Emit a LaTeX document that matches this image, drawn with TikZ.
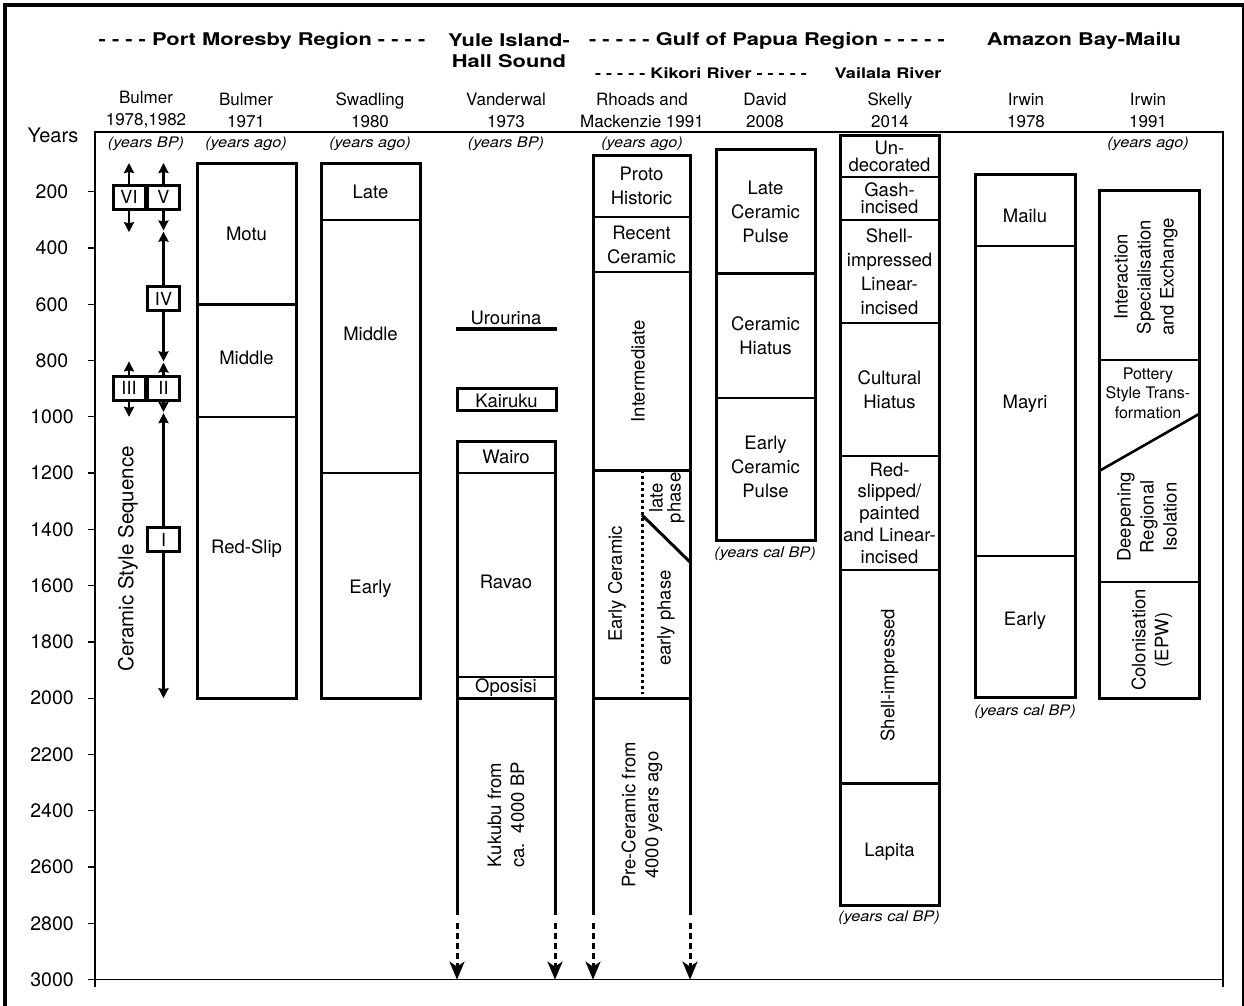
\documentclass[tikz,border=0pt]{standalone}
\usepackage{fontspec}
\setmainfont{TeX Gyre Heros}
\newfontfamily\widefont{TeX Gyre Heros}[FakeStretch=1.25]
\newfontfamily\unitfont{TeX Gyre Heros}[FakeStretch=1.12]
\usetikzlibrary{arrows.meta}
\begin{document}
\begin{tikzpicture}[x=1pt,y=-1pt,
  frame/.style={line width=1.3pt},
  colbox/.style={line width=3pt},
  sep/.style={line width=2.6pt},
  lbl/.style={font=\fontsize{18.5}{24}\selectfont, align=center, inner sep=0pt},
  rlbl/.style={font=\fontsize{18.5}{23}\selectfont, align=center, inner sep=0pt, rotate=90},
  tight/.style={font=\fontsize{18.5}{16.7}\selectfont, align=center, inner sep=0pt},
  midsp/.style={font=\fontsize{18.5}{21.7}\selectfont, align=center, inner sep=0pt},
  pottery/.style={font=\fontsize{16}{19.5}\selectfont, align=center, inner sep=0pt},
  ticklbl/.style={font=\fontsize{19.5}{20}\selectfont, inner sep=0pt},
  hdr/.style={font=\widefont\bfseries\fontsize{17.5}{21}\selectfont, align=center, inner sep=0pt},
  subhdr/.style={font=\widefont\bfseries\fontsize{14.5}{17}\selectfont, inner sep=0pt},
  auth/.style={font=\fontsize{17}{22}\selectfont, align=center, inner sep=0pt},
  unit/.style={font=\unitfont\itshape\fontsize{14.5}{15}\selectfont, inner sep=0pt},
  roman/.style={draw, line width=3pt, minimum width=32pt, minimum height=24pt, inner sep=0pt, font=\fontsize{18}{18}\selectfont},
  arr/.style={line width=2.6pt, -{Stealth[length=10pt,width=10pt,inset=1pt]}},
  darr/.style={line width=3pt, dash pattern=on 6pt off 4pt, -{Stealth[length=18pt,width=15pt,inset=5pt]}},
]
\useasboundingbox (0,0) rectangle (1244,1005);
\draw[line width=3.5pt] (5,5) rectangle (1243.5,1008);

% ---------- headers ----------
\node[hdr] (pm) at (262,41) {- - - - Port Moresby Region - - - -};
\node[hdr] (yule) at (509,51) {Yule Island-\\Hall Sound};
\node[hdr] (gulf) at (767,41) {- - - - - Gulf of Papua Region - - - - -};
\node[hdr] (amazon) at (1084,41) {Amazon Bay-Mailu};
\node[subhdr] (kikori) at (701,73) {- - - - - Kikori River - - - - -};
\node[subhdr] (vailala) at (888,73) {Vailala River};

\node[auth] (a1) at (146,110) {Bulmer\\1978,1982};
\node[auth] (a2) at (246,110) {Bulmer\\1971};
\node[auth] (a3) at (370,110) {Swadling\\1980};
\node[auth] (a4) at (506,110) {Vanderwal\\1973};
\node[auth] (a5) at (642,110) {Rhoads and\\Mackenzie 1991};
\node[auth] (a6) at (765,110) {David\\2008};
\node[auth] (a7) at (890,110) {Skelly\\2014};
\node[auth] (a8) at (1026,110) {Irwin\\1978};
\node[auth] (a9) at (1148,110) {Irwin\\1991};

\node[unit] (u1) at (146,144) {(years BP)};
\node[unit] (u2) at (246,144) {(years ago)};
\node[unit] (u3) at (370,144) {(years ago)};
\node[unit] (u4) at (506,144) {(years BP)};
\node[unit] (u5) at (642,144) {(years ago)};
\node[unit] (u9) at (1148,144) {(years ago)};

\node[font=\fontsize{20}{20}\selectfont, inner sep=0pt] (years) at (53,135) {Years};

% ---------- chart ----------
\begin{scope}[shift={(0,135.4)}, y=-0.2814pt]
\draw[frame] (95,3026) -- (95,-12) -- (1223,-12) -- (1223,3026);
\draw[frame] (88,3000) -- (1223,3000);
\foreach \yr in {200,400,...,3000} {
  \draw[frame] (88,\yr) -- (95,\yr);
  \node[ticklbl] (tick\yr) at (52,\yr) {\yr};
}

% Bulmer 1978,1982
\node[roman] (r6) at (129,219) {VI};
\node[roman] (r5) at (163.5,219) {V};
\node[roman] (r4) at (163.5,580) {IV};
\node[roman] (r3) at (129,898) {III};
\node[roman] (r2) at (163.5,898) {II};
\node[roman] (r1) at (163.5,1436) {I};
\coordinate (c6t) at (129,98);
\coordinate (c6b) at (129,344);
\coordinate (c5t) at (163.5,98);
\coordinate (c5b) at (163.5,338);
\coordinate (c4t) at (163.5,342);
\coordinate (c4b) at (163.5,803);
\coordinate (c2t) at (163.5,807);
\coordinate (c2b) at (163.5,983);
\coordinate (c1t) at (163.5,987);
\coordinate (c1b) at (163.5,2000);
\coordinate (c3t) at (129,803);
\coordinate (c3b) at (129,1000);
\draw[arr] (r6.north) -- (c6t);
\draw[arr] (r6.south) -- (c6b);
\draw[arr] (r5.north) -- (c5t);
\draw[arr] (r5.south) -- (c5b);
\draw[arr] (r4.north) -- (c4t);
\draw[arr] (r4.south) -- (c4b);
\draw[arr] (r2.north) -- (c2t);
\draw[arr] (r2.south) -- (c2b);
\draw[arr] (r1.north) -- (c1t);
\draw[arr] (r1.south) -- (c1b);
\draw[arr] (r3.north) -- (c3t);
\draw[arr] (r3.south) -- (c3b);
\node[font=\fontsize{20.5}{21}\selectfont, inner sep=0pt, rotate=90] (css) at (128,1505) {Ceramic Style Sequence};

% Bulmer 1971
\draw[colbox] (197,100) rectangle (296,2000);
\draw[sep] (197,600) -- (296,600) (197,1000) -- (296,1000);
\node[lbl] (motu) at (246.5,350) {Motu};
\node[lbl] (middle1) at (246.5,791) {Middle};
\node[lbl] (redslip) at (246.5,1470) {Red-Slip};

% Swadling 1980
\draw[colbox] (321,100) rectangle (420,2000);
\draw[sep] (321,300) -- (420,300) (321,1200) -- (420,1200);
\node[lbl] (late) at (370.5,200) {Late};
\node[lbl] (middle2) at (370.5,705) {Middle};
\node[lbl] (early1) at (370.5,1612) {Early};

% Vanderwal 1973
\draw[line width=4pt] (456,688) -- (557,688);
\node[lbl, anchor=base] (urourina) at (506,673) {Urourina};
\draw[colbox] (457,901) rectangle (556,976);
\node[lbl, anchor=base] (kairuku) at (506.5,966) {Kairuku};
\draw[colbox] (457,2770) -- (457,1086) -- (555,1086) -- (555,2770);
\draw[sep] (457,1200) -- (555,1200) (457,1925) -- (555,1925);
\draw[colbox] (457,2000) -- (555,2000);
\node[lbl] (wairo) at (506,1143) {Wairo};
\node[lbl] (ravao) at (506,1588) {Ravao};
\node[lbl, anchor=base] (oposisi) at (506,1981) {Oposisi};
\node[rlbl] (kukubu) at (506,2415) {Kukubu from\\ca.\ \ 4000 BP};

% Rhoads and Mackenzie 1991
\draw[colbox] (593,2770) -- (593,70) -- (690,70) -- (690,2770);
\draw[sep] (593,290) -- (690,290) (593,485) -- (690,485) (593,1190) -- (690,1190);
\draw[colbox] (593,2000) -- (690,2000);
\draw[line width=3pt, dash pattern=on 3pt off 3pt] (642,1190) -- (642,1985);
\draw[line width=3pt] (642,1349) -- (690,1516);
\node[lbl] (proto) at (641.5,178) {Proto\\Historic};
\node[lbl] (recent) at (641.5,388) {Recent\\Ceramic};
\node[rlbl] (interm) at (638,838) {Intermediate};
\node[rlbl] (earlycer) at (617,1594) {Early Ceramic};
\node[font=\fontsize{18.5}{18}\selectfont, align=center, inner sep=0pt, rotate=90] (latephase) at (667,1288) {late\\phase};
\node[rlbl] (earlyphase) at (666,1715) {early phase};
\node[rlbl] (preceramic) at (642,2415) {Pre-Ceramic from\\4000 years ago};

% bottom dashed arrows
\coordinate (d1s) at (457,2797);
\coordinate (d1e) at (457,3000);
\coordinate (d2s) at (555,2797);
\coordinate (d2e) at (555,3000);
\coordinate (d3s) at (593,2797);
\coordinate (d3e) at (593,3000);
\coordinate (d4s) at (690,2797);
\coordinate (d4e) at (690,3000);
\draw[darr] (d1s) -- (d1e);
\draw[darr] (d2s) -- (d2e);
\draw[darr] (d3s) -- (d3e);
\draw[darr] (d4s) -- (d4e);

% David 2008
\draw[colbox] (716,50) rectangle (815,1438);
\draw[sep] (716,490) -- (815,490) (716,933) -- (815,933);
\node[lbl] (lcp) at (765.5,273) {Late\\Ceramic\\Pulse};
\node[lbl] (chi) at (765.5,713) {Ceramic\\Hiatus};
\node[lbl] (ecp) at (765.5,1178) {Early\\Ceramic\\Pulse};
\node[unit] (u6) at (765,1485) {(years cal BP)};

% Skelly 2014
\draw[colbox] (840,2) rectangle (939,2738);
\draw[sep] (840,148) -- (939,148) (840,300) -- (939,300) (840,667) -- (939,667)
  (840,1139) -- (939,1139) (840,1545) -- (939,1545) (840,2302) -- (939,2302);
\node[tight] (undec) at (889.5,75) {Un-\\decorated};
\node[tight] (gash) at (889.5,224) {Gash-\\incised};
\node[lbl] (shlin) at (889.5,483) {Shell-\\impressed\\Linear-\\incised};
\node[lbl] (cult) at (889.5,903) {Cultural\\Hiatus};
\node[midsp] (redsl) at (889.5,1342) {Red-\\slipped/\\painted\\and Linear-\\incised};
\node[rlbl] (shimp) at (889.5,1918) {Shell-impressed};
\node[lbl] (lapita) at (889.5,2545) {Lapita};
\node[unit] (u7) at (889,2781) {(years cal BP)};

% Irwin 1978
\draw[colbox] (975,138) rectangle (1075,1999);
\draw[sep] (975,393) -- (1075,393) (975,1495) -- (1075,1495);
\node[lbl] (mailu) at (1025,285) {Mailu};
\node[lbl] (mayri) at (1025,954) {Mayri};
\node[lbl] (early2) at (1025,1725) {Early};
\node[unit] (u8) at (1025,2049) {(years cal BP)};

% Irwin 1991
\draw[colbox] (1099,197) rectangle (1199,2000);
\draw[sep] (1099,798) -- (1199,798) (1099,1587) -- (1199,1587);
\draw[sep] (1199,990) -- (1099,1193);
\node[rlbl] (inter) at (1146,503) {Interaction\\Specialisation\\and Exchange};
\node[pottery] (pott) at (1148,915) {Pottery\\Style Trans-\\formation};
\node[rlbl] (deep) at (1147,1356) {Deepening\\Regional\\Isolation};
\node[rlbl] (colon) at (1152,1793) {Colonisation\\(EPW)};
\end{scope}
\end{tikzpicture}
\end{document}
